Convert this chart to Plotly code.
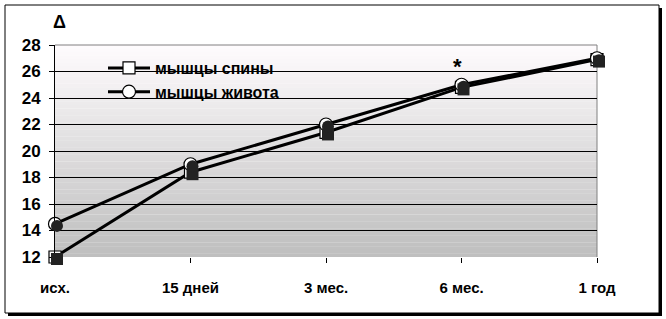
import plotly.graph_objects as go

categories = ["исх.", "15 дней", "3 мес.", "6 мес.", "1 год"]
back_muscles = [12.0, 18.4, 21.4, 24.8, 26.9]
abdominal_muscles = [14.5, 19.0, 22.0, 25.0, 27.0]
series_names = ["мышцы спины", "мышцы живота"]
y_ticks = [12, 14, 16, 18, 20, 22, 24, 26, 28]
star_category = "6 мес."

W, H = 666, 319
L, R, T, B = 55, 67, 45, 60
PW, PH = W - L - R, H - T - B
SH = 2  # shadow offset px

def px(x):
    return (x - L) / PW

def py(y):
    return (H - B - y) / PH

FONT = "Liberation Sans, Arial, sans-serif"

fig = go.Figure()

# shadows of markers
for vals, sym in [(back_muscles, "square"), (abdominal_muscles, "circle")]:
    fig.add_trace(go.Scatter(
        x=categories, y=vals, mode="markers", xaxis="x2", yaxis="y2",
        marker=dict(symbol=sym, size=12, color="#222222", line=dict(width=0)),
        showlegend=False, hoverinfo="skip", cliponaxis=False))

fig.add_trace(go.Scatter(
    x=categories, y=back_muscles, name="<b>" + series_names[0] + "</b>", mode="lines+markers",
    line=dict(color="black", width=3), cliponaxis=False,
    marker=dict(symbol="square", size=12, color="white", line=dict(color="black", width=1.2))))
fig.add_trace(go.Scatter(
    x=categories, y=abdominal_muscles, name="<b>" + series_names[1] + "</b>", mode="lines+markers",
    line=dict(color="black", width=3), cliponaxis=False,
    marker=dict(symbol="circle", size=13, color="white", line=dict(color="black", width=1.2))))

shapes = []
shapes.append(dict(type="rect", xref="paper", yref="paper",
                   x0=px(8), x1=px(662), y0=py(8), y1=py(316),
                   fillcolor="black", line=dict(width=0), layer="below"))
shapes.append(dict(type="rect", xref="paper", yref="paper",
                   x0=px(5), x1=px(659), y0=py(5), y1=py(313),
                   fillcolor="white", line=dict(color="black", width=1), layer="below"))
x0p, x1p = 0, (PW - SH) / PW
y0p, y1p = SH / PH, 1
n = 60
top = (255, 252, 254)
bot = (190, 190, 190)
for i in range(n):
    t = (i + 0.5) / n
    c = tuple(int(round(top[k] + (bot[k] - top[k]) * t)) for k in range(3))
    ya = y1p - (y1p - y0p) * i / n
    yb = y1p - (y1p - y0p) * (i + 1) / n
    shapes.append(dict(type="rect", xref="paper", yref="paper",
                       x0=x0p, x1=x1p, y0=yb, y1=ya + 0.001,
                       fillcolor="rgb(%d,%d,%d)" % c, line=dict(width=0), layer="below"))
shapes.append(dict(type="line", xref="paper", yref="paper", x0=x0p, x1=x1p, y0=y1p, y1=y1p,
                   line=dict(color="#808080", width=1), layer="below"))
shapes.append(dict(type="line", xref="paper", yref="paper", x0=x1p, x1=x1p, y0=y0p, y1=y1p,
                   line=dict(color="#808080", width=1), layer="below"))

fig.update_layout(
    width=W, height=H, margin=dict(l=L, r=R, t=T, b=B),
    paper_bgcolor="rgba(0,0,0,0)", plot_bgcolor="rgba(0,0,0,0)",
    font=dict(family=FONT, color="black", size=15),
    shapes=shapes,
    showlegend=True,
    legend=dict(x=px(103), y=py(51), xanchor="left", yanchor="top",
                bgcolor="rgba(0,0,0,0)", font=dict(size=16, family=FONT),
                tracegroupgap=0, itemwidth=42),
    xaxis=dict(domain=[x0p, x1p], type="category", range=[0, len(categories) - 1],
               showgrid=False, showline=False, zeroline=False,
               ticks="outside", ticklen=5, tickcolor="black", tickwidth=1,
               tickfont=dict(size=15, family=FONT), ticklabelstandoff=12,
               tickprefix="<b>", ticksuffix="</b>"),
    yaxis=dict(domain=[y0p, y1p], range=[12, 28], tickvals=y_ticks,
               ticktext=["<b>%d</b>" % v for v in y_ticks],
               showgrid=True, gridcolor="black", gridwidth=1, zeroline=False,
               showline=True, linecolor="black", linewidth=1,
               ticks="outside", ticklen=5, tickcolor="black",
               tickfont=dict(size=17, family=FONT), ticklabelstandoff=5),
    xaxis2=dict(domain=[SH / PW, 1], type="category", range=[0, len(categories) - 1],
                visible=False, anchor="y2"),
    yaxis2=dict(domain=[0, (PH - SH) / PH], range=[12, 28], visible=False, anchor="x2"),
)

fig.add_annotation(text="<b>Δ</b>", xref="paper", yref="paper", x=px(51), y=py(22),
                   xanchor="left", yanchor="middle", showarrow=False,
                   font=dict(size=18, family=FONT))
fig.add_annotation(text="<b>*</b>", x=star_category, y=abdominal_muscles[3],
                   yshift=18, showarrow=False, xshift=-4,
                   font=dict(size=22, family=FONT))

fig.write_html("out.html")
